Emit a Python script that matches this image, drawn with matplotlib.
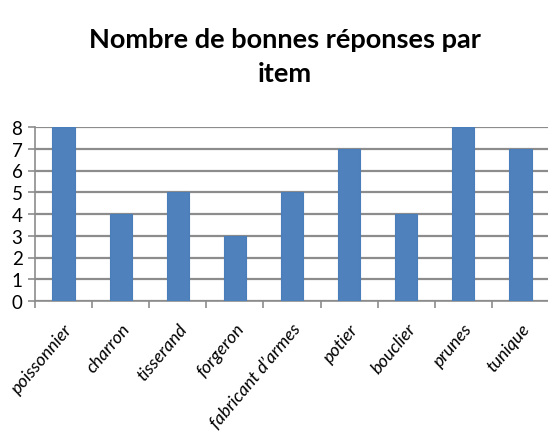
import matplotlib.pyplot as plt
import numpy as np

items = ["poissonnier", "charron", "tisserand", "forgeron", "fabricant d’armes",
         "potier", "bouclier", "prunes", "tunique"]
bonnes = [8, 4, 5, 3, 5, 7, 4, 8, 7]

FONT = ["Lato", "DejaVu Sans"]
W, H = 548, 439
fig = plt.figure(figsize=(W / 100, H / 100), dpi=100)
ax = fig.add_axes([35 / W, 1 - 302 / H, (549 - 35) / W, (302 - 128) / H])

x = np.arange(len(items))
ax.bar(x, bonnes, width=0.39, color="#4F81BD", edgecolor="#4A7EBB", linewidth=0.8, zorder=3)

ax.set_xlim(-0.5, len(items) - 0.5)
ax.set_ylim(0, 8)
ax.set_yticks(range(0, 9))
ax.yaxis.grid(True, color="#8c8c8c", linewidth=1.6, zorder=0)
for s in ["top", "right"]:
    ax.spines[s].set_visible(False)
for s in ["left", "bottom"]:
    ax.spines[s].set_color("#8c8c8c")
    ax.spines[s].set_linewidth(1.2)

ax.set_xticks(np.arange(-0.5, len(items) - 0.5, 1))
ax.set_xticklabels([])
ax.set_xticks(x, minor=True)
ax.set_xticklabels(items, minor=True, rotation=50, ha="right", rotation_mode="anchor",
                   fontstyle="italic", fontsize=13, family=FONT)
ax.tick_params(axis="x", which="minor", length=0, pad=14)
ax.tick_params(axis="x", which="major", length=5, color="#8c8c8c", width=1.2)
ax.tick_params(axis="y", length=5, color="#8c8c8c", width=1.2, pad=4, labelsize=13.5)
for t in ax.get_yticklabels():
    t.set_family(FONT)

fig.text(0.52, 1 - 57 / H, "Nombre de bonnes réponses par\nitem", ha="center", va="center",
         fontsize=19.5, fontweight="bold", linespacing=1.5, family=FONT)

fig.savefig("out.png", dpi=100)
